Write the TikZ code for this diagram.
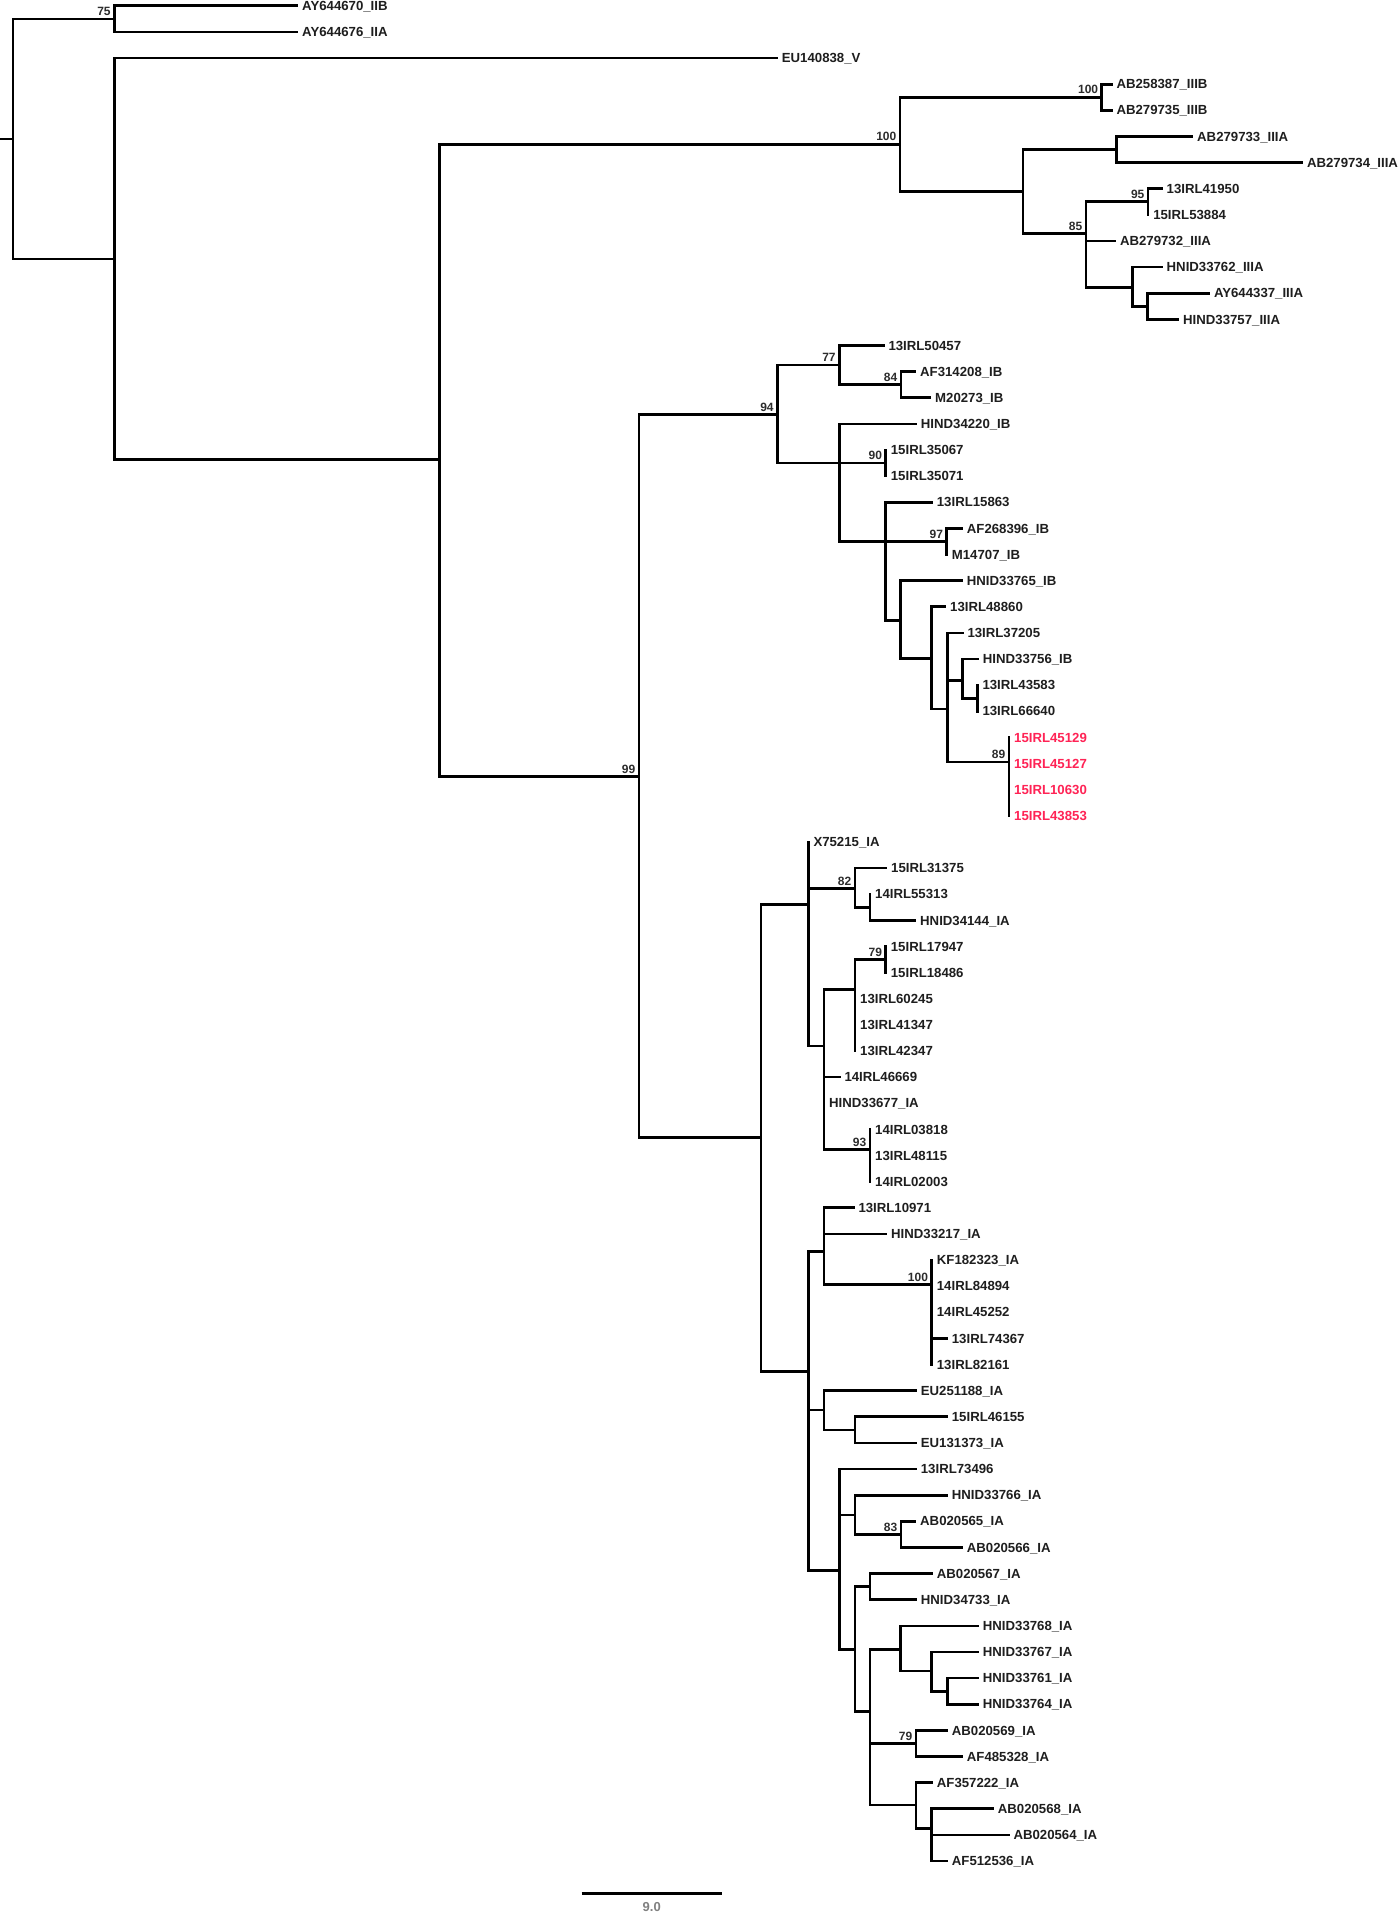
\documentclass[tikz,border=0pt]{standalone}
\usepackage{fontspec}
\setmainfont{Liberation Sans}
\definecolor{hl}{RGB}{255,35,85}
\definecolor{txt}{RGB}{30,30,30}
\definecolor{bsc}{RGB}{45,45,45}
\begin{document}
\begin{tikzpicture}[x=1pt,y=-1pt,
  br/.style={line width=2.7pt, line cap=rect},
  leaf/.style={anchor=base west, inner sep=0pt, xshift=5pt, yshift=-4.6pt, font=\fontsize{13.2}{15}\selectfont\bfseries, text=txt},
  redleaf/.style={leaf, text=hl},
  bs/.style={anchor=base east, inner sep=0pt, xshift=-3.5pt, yshift=3.3pt, font=\fontsize{12}{13}\selectfont\bfseries, text=bsc},
  sclab/.style={anchor=north, inner sep=0pt, font=\fontsize{13}{14}\selectfont\bfseries, text=black!50}]
\useasboundingbox[fill=white] (0,0) rectangle (1400,1915);
% internal nodes
\coordinate (rootstub) at (0,139);
\coordinate (root) at (13,139);
\coordinate (A) at (114.3,18.85);
\coordinate (B) at (114.3,259);
\coordinate (C) at (439.3,459.4);
\coordinate (D) at (900,144.2);
\coordinate (E) at (1101.8,97.25);
\coordinate (F) at (1022.9,191.7);
\coordinate (G) at (1116.6,149.55);
\coordinate (H) at (1086,233.3);
\coordinate (I) at (1148.1,201.75);
\coordinate (J) at (1132.4,287.7);
\coordinate (K) at (1147.4,306.3);
\coordinate (L) at (639,776.3);
\coordinate (M) at (777.3,414.7);
\coordinate (Z) at (761,1137.6);
\coordinate (N) at (839.3,365);
\coordinate (O) at (901,384.7);
\coordinate (P) at (839.3,463);
\coordinate (Q) at (885.7,463);
\coordinate (R) at (885.7,541.5);
\coordinate (S) at (946.7,541.5);
\coordinate (T) at (900.7,620.7);
\coordinate (U) at (931.7,658.3);
\coordinate (V) at (947.7,709);
\coordinate (W) at (962.3,680.7);
\coordinate (X) at (977.3,698.25);
\coordinate (Y) at (1009,762);
\coordinate (AA) at (808.3,904.3);
\coordinate (AB) at (855,888.3);
\coordinate (AD) at (870,907.3);
\coordinate (AC) at (824,1046);
\coordinate (AE) at (855,989.3);
\coordinate (AG) at (885.7,959.55);
\coordinate (AF) at (870,1149.3);
\coordinate (AH) at (808.3,1371.8);
\coordinate (AI) at (824,1251.7);
\coordinate (AL) at (931.7,1284.3);
\coordinate (AJ) at (824,1410);
\coordinate (AM) at (855,1429.9);
\coordinate (AK) at (839.3,1570.7);
\coordinate (AN) at (855,1515);
\coordinate (AP) at (901,1534.4);
\coordinate (AO) at (855,1649.3);
\coordinate (AQ) at (870,1586.65);
\coordinate (AR) at (870,1711.7);
\coordinate (AS) at (900.7,1649.3);
\coordinate (AV) at (931.7,1671);
\coordinate (AW) at (947.3,1691.2);
\coordinate (AT) at (916,1743.45);
\coordinate (AU) at (916,1805);
\coordinate (AX) at (931.7,1828.3);
% leaf tips
\coordinate (t1) at (297,5.8);
\coordinate (t2) at (297,31.9);
\coordinate (t3) at (776.7,58.1);
\coordinate (t4) at (1111.3,84.2);
\coordinate (t5) at (1111.3,110.3);
\coordinate (t6) at (1192,136.5);
\coordinate (t7) at (1301.8,162.6);
\coordinate (t8) at (1161.5,188.7);
\coordinate (t9) at (1148.1,214.8);
\coordinate (t10) at (1114.8,241.0);
\coordinate (t11) at (1161.5,267.1);
\coordinate (t12) at (1208.8,293.2);
\coordinate (t13) at (1178,319.4);
\coordinate (t14) at (883.3,345.5);
\coordinate (t15) at (915,371.6);
\coordinate (t16) at (930,397.8);
\coordinate (t17) at (915.7,423.9);
\coordinate (t18) at (885.7,450.0);
\coordinate (t19) at (885.7,476.1);
\coordinate (t20) at (931.7,502.3);
\coordinate (t21) at (961.7,528.4);
\coordinate (t22) at (946.7,554.5);
\coordinate (t23) at (961.7,580.7);
\coordinate (t24) at (945,606.8);
\coordinate (t25) at (962.3,632.9);
\coordinate (t26) at (977.7,659.1);
\coordinate (t27) at (977.3,685.2);
\coordinate (t28) at (977.3,711.3);
\coordinate (t29) at (1009,737.4);
\coordinate (t30) at (1009,763.6);
\coordinate (t31) at (1009,789.7);
\coordinate (t32) at (1009,815.8);
\coordinate (t33) at (808.3,842.0);
\coordinate (t34) at (886,868.1);
\coordinate (t35) at (870,894.2);
\coordinate (t36) at (915,920.4);
\coordinate (t37) at (885.7,946.5);
\coordinate (t38) at (885.7,972.6);
\coordinate (t39) at (855,998.7);
\coordinate (t40) at (855,1024.9);
\coordinate (t41) at (855,1051.0);
\coordinate (t42) at (839.3,1077.1);
\coordinate (t43) at (824,1103.3);
\coordinate (t44) at (870,1129.4);
\coordinate (t45) at (870,1155.5);
\coordinate (t46) at (870,1181.7);
\coordinate (t47) at (853.3,1207.8);
\coordinate (t48) at (886,1233.9);
\coordinate (t49) at (931.7,1260.0);
\coordinate (t50) at (931.7,1286.2);
\coordinate (t51) at (931.7,1312.3);
\coordinate (t52) at (946.7,1338.4);
\coordinate (t53) at (931.7,1364.6);
\coordinate (t54) at (915.7,1390.7);
\coordinate (t55) at (946.7,1416.8);
\coordinate (t56) at (915.7,1443.0);
\coordinate (t57) at (915.7,1469.1);
\coordinate (t58) at (946.7,1495.2);
\coordinate (t59) at (915,1521.3);
\coordinate (t60) at (961.7,1547.5);
\coordinate (t61) at (931.7,1573.6);
\coordinate (t62) at (915.7,1599.7);
\coordinate (t63) at (977.7,1625.9);
\coordinate (t64) at (977.7,1652.0);
\coordinate (t65) at (977.7,1678.1);
\coordinate (t66) at (977.7,1704.3);
\coordinate (t67) at (946.7,1730.4);
\coordinate (t68) at (961.7,1756.5);
\coordinate (t69) at (931.7,1782.6);
\coordinate (t70) at (992.7,1808.8);
\coordinate (t71) at (1008.3,1834.9);
\coordinate (t72) at (946.7,1861.0);
% branches
\draw[br] (rootstub) -- (root);
\foreach \p/\c in {root/A, root/B, A/t1, A/t2, B/t3, B/C, C/D, C/L, D/E, D/F, E/t4, E/t5,
  F/G, F/H, G/t6, G/t7, H/I, H/t10, H/J, I/t8, I/t9, J/t11, J/K, K/t12, K/t13,
  L/M, L/Z, M/N, M/P, N/t14, N/O, O/t15, O/t16, P/t17, P/Q, P/R, Q/t18, Q/t19,
  R/t20, R/S, R/T, S/t21, S/t22, T/t23, T/U, U/t24, U/V, V/t25, V/W, V/Y,
  W/t26, W/X, X/t27, X/t28, Y/t29, Y/t30, Y/t31, Y/t32,
  Z/AA, Z/AH, AA/t33, AA/AB, AA/AC, AB/t34, AB/AD, AD/t35, AD/t36,
  AC/AE, AC/t42, AC/t43, AC/AF, AE/AG, AE/t39, AE/t40, AE/t41, AG/t37, AG/t38,
  AF/t44, AF/t45, AF/t46,
  AH/AI, AH/AJ, AH/AK, AI/t47, AI/t48, AI/AL, AL/t49, AL/t50, AL/t51, AL/t52, AL/t53,
  AJ/t54, AJ/AM, AM/t55, AM/t56, AK/t57, AK/AN, AK/AO, AN/t58, AN/AP, AP/t59, AP/t60,
  AO/AQ, AO/AR, AQ/t61, AQ/t62, AR/AS, AR/AT, AR/AU, AS/t63, AS/AV, AV/t64, AV/AW,
  AW/t65, AW/t66, AT/t67, AT/t68, AU/t69, AU/AX, AX/t70, AX/t71, AX/t72}
  \draw[br] (\p) |- (\c);
% bootstrap values
\node[bs] (bA) at (A) {75};
\node[bs] (bD) at (D) {100};
\node[bs] (bE) at (E) {100};
\node[bs] (bH) at (H) {85};
\node[bs] (bI) at (I) {95};
\node[bs] (bL) at (L) {99};
\node[bs] (bM) at (M) {94};
\node[bs] (bN) at (N) {77};
\node[bs] (bO) at (O) {84};
\node[bs] (bQ) at (Q) {90};
\node[bs] (bS) at (S) {97};
\node[bs] (bY) at (Y) {89};
\node[bs] (bAB) at (AB) {82};
\node[bs] (bAG) at (AG) {79};
\node[bs] (bAF) at (AF) {93};
\node[bs] (bAL) at (AL) {100};
\node[bs] (bAP) at (AP) {83};
\node[bs] (bAT) at (AT) {79};
% leaf labels
\node[leaf] (l1) at (t1) {AY644670\_IIB};
\node[leaf] (l2) at (t2) {AY644676\_IIA};
\node[leaf] (l3) at (t3) {EU140838\_V};
\node[leaf] (l4) at (t4) {AB258387\_IIIB};
\node[leaf] (l5) at (t5) {AB279735\_IIIB};
\node[leaf] (l6) at (t6) {AB279733\_IIIA};
\node[leaf] (l7) at (t7) {AB279734\_IIIA};
\node[leaf] (l8) at (t8) {13IRL41950};
\node[leaf] (l9) at (t9) {15IRL53884};
\node[leaf] (l10) at (t10) {AB279732\_IIIA};
\node[leaf] (l11) at (t11) {HNID33762\_IIIA};
\node[leaf] (l12) at (t12) {AY644337\_IIIA};
\node[leaf] (l13) at (t13) {HIND33757\_IIIA};
\node[leaf] (l14) at (t14) {13IRL50457};
\node[leaf] (l15) at (t15) {AF314208\_IB};
\node[leaf] (l16) at (t16) {M20273\_IB};
\node[leaf] (l17) at (t17) {HIND34220\_IB};
\node[leaf] (l18) at (t18) {15IRL35067};
\node[leaf] (l19) at (t19) {15IRL35071};
\node[leaf] (l20) at (t20) {13IRL15863};
\node[leaf] (l21) at (t21) {AF268396\_IB};
\node[leaf] (l22) at (t22) {M14707\_IB};
\node[leaf] (l23) at (t23) {HNID33765\_IB};
\node[leaf] (l24) at (t24) {13IRL48860};
\node[leaf] (l25) at (t25) {13IRL37205};
\node[leaf] (l26) at (t26) {HIND33756\_IB};
\node[leaf] (l27) at (t27) {13IRL43583};
\node[leaf] (l28) at (t28) {13IRL66640};
\node[redleaf] (l29) at (t29) {15IRL45129};
\node[redleaf] (l30) at (t30) {15IRL45127};
\node[redleaf] (l31) at (t31) {15IRL10630};
\node[redleaf] (l32) at (t32) {15IRL43853};
\node[leaf] (l33) at (t33) {X75215\_IA};
\node[leaf] (l34) at (t34) {15IRL31375};
\node[leaf] (l35) at (t35) {14IRL55313};
\node[leaf] (l36) at (t36) {HNID34144\_IA};
\node[leaf] (l37) at (t37) {15IRL17947};
\node[leaf] (l38) at (t38) {15IRL18486};
\node[leaf] (l39) at (t39) {13IRL60245};
\node[leaf] (l40) at (t40) {13IRL41347};
\node[leaf] (l41) at (t41) {13IRL42347};
\node[leaf] (l42) at (t42) {14IRL46669};
\node[leaf] (l43) at (t43) {HIND33677\_IA};
\node[leaf] (l44) at (t44) {14IRL03818};
\node[leaf] (l45) at (t45) {13IRL48115};
\node[leaf] (l46) at (t46) {14IRL02003};
\node[leaf] (l47) at (t47) {13IRL10971};
\node[leaf] (l48) at (t48) {HIND33217\_IA};
\node[leaf] (l49) at (t49) {KF182323\_IA};
\node[leaf] (l50) at (t50) {14IRL84894};
\node[leaf] (l51) at (t51) {14IRL45252};
\node[leaf] (l52) at (t52) {13IRL74367};
\node[leaf] (l53) at (t53) {13IRL82161};
\node[leaf] (l54) at (t54) {EU251188\_IA};
\node[leaf] (l55) at (t55) {15IRL46155};
\node[leaf] (l56) at (t56) {EU131373\_IA};
\node[leaf] (l57) at (t57) {13IRL73496};
\node[leaf] (l58) at (t58) {HNID33766\_IA};
\node[leaf] (l59) at (t59) {AB020565\_IA};
\node[leaf] (l60) at (t60) {AB020566\_IA};
\node[leaf] (l61) at (t61) {AB020567\_IA};
\node[leaf] (l62) at (t62) {HNID34733\_IA};
\node[leaf] (l63) at (t63) {HNID33768\_IA};
\node[leaf] (l64) at (t64) {HNID33767\_IA};
\node[leaf] (l65) at (t65) {HNID33761\_IA};
\node[leaf] (l66) at (t66) {HNID33764\_IA};
\node[leaf] (l67) at (t67) {AB020569\_IA};
\node[leaf] (l68) at (t68) {AF485328\_IA};
\node[leaf] (l69) at (t69) {AF357222\_IA};
\node[leaf] (l70) at (t70) {AB020568\_IA};
\node[leaf] (l71) at (t71) {AB020564\_IA};
\node[leaf] (l72) at (t72) {AF512536\_IA};
% scale bar
\coordinate (sb1) at (581.7,1893.3);
\coordinate (sb2) at (721.7,1893.3);
\draw[br, line cap=butt] (sb1) -- (sb2);
\node[sclab] (sbl) at (651.7,1902) {9.0};
\end{tikzpicture}
\end{document}
